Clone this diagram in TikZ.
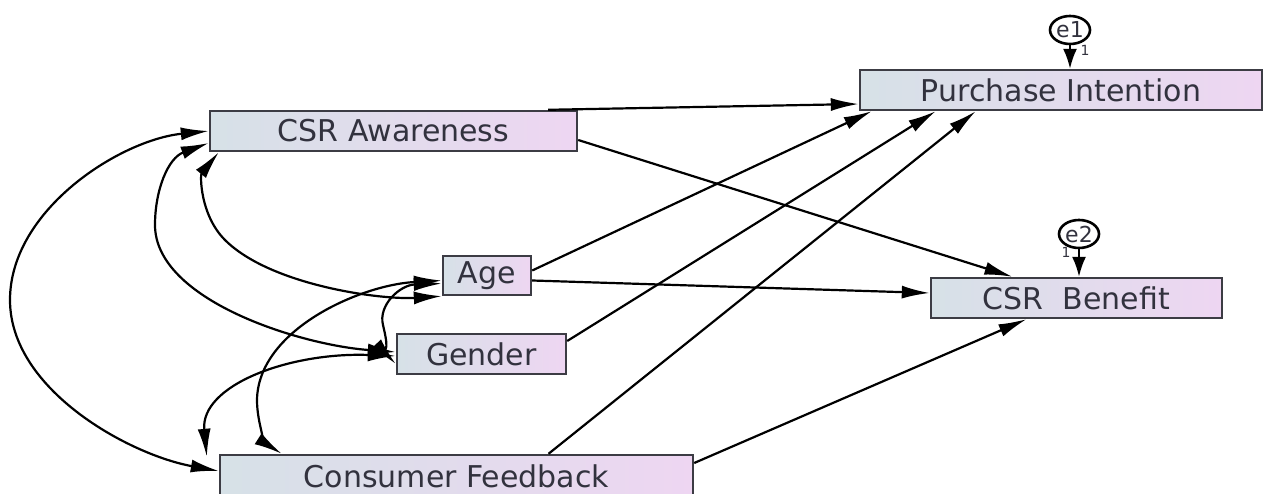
\documentclass[tikz,border=0pt]{standalone}
\usepackage{fontspec}
\setmainfont{DejaVu Sans}
\usetikzlibrary{arrows.meta,shapes.geometric}
\definecolor{boxl}{RGB}{214,225,231}
\definecolor{boxr}{RGB}{238,214,242}
\definecolor{edgec}{RGB}{60,60,68}
\definecolor{txt}{RGB}{50,50,62}
\begin{document}
\begin{tikzpicture}[x=1pt,y=-1pt,
  var/.style={rectangle,draw=edgec,line width=2.4pt,left color=boxl,right color=boxr,
    text=txt,font=\fontsize{30}{34}\selectfont,minimum height=40pt,inner sep=0pt},
  err/.style={ellipse,draw=black,line width=2.6pt,fill=white,text=txt,
    font=\fontsize{22}{24}\selectfont,minimum width=40pt,minimum height=28pt,inner sep=0pt},
  arr/.style={draw=black,line width=2.2pt,-{Latex[length=28pt,width=13pt]}},
  cov/.style={draw=black,line width=2.2pt,{Latex[length=28pt,width=13pt]}-{Latex[length=28pt,width=13pt]}},
  one/.style={font=\fontsize{14}{14}\selectfont,text=txt,inner sep=0pt}]
\fill[white] (0,0) rectangle (1282,494);
\useasboundingbox (0,0) rectangle (1282,494);

% variables
\node[var,minimum width=402pt] (pi) at (1061,90) {Purchase Intention};
\node[var,minimum width=367pt] (csra) at (393.5,131) {CSR Awareness};
\node[var,minimum width=291pt] (csrb) at (1076.5,298) {CSR\ \ Benefit};
\node[var,minimum width=88pt,minimum height=39pt] (age) at (487,275.5) {Age};
\node[var,minimum width=169pt] (gen) at (481.5,354) {Gender};
\node[var,minimum width=473pt,minimum height=42pt] (cf) at (456.5,476) {Consumer Feedback};

% error terms
\node[err] (e1) at (1070,30) {e1};
\node[err] (e2) at (1079,234) {e2};
\node[one] (o1) at (1085,50) {1};
\node[one] (o2) at (1066,252) {1};
\draw[arr,-{Latex[length=20pt,width=14pt]}] (e1.south) -- (e1.south |- pi.north);
\draw[arr,-{Latex[length=20pt,width=14pt]}] (e2.south) -- (e2.south |- csrb.north);

% regression paths
\draw[arr] ([xshift=-30pt]csra.north east) -- ([yshift=-14pt]pi.west);
\draw[arr] ([yshift=-9pt]csra.east) -- ([xshift=-64pt]csrb.north);
\draw[arr] ([yshift=5pt]age.east) -- ([xshift=13pt]pi.south west);
\draw[arr] ([yshift=13pt]gen.east) -- ([xshift=77pt]pi.south west);
\draw[arr] ([xshift=92pt]cf.north) -- ([xshift=117pt]pi.south west);
\draw[arr] ([yshift=-5pt]age.east) -- ([yshift=5pt]csrb.west);
\draw[arr] ([yshift=13pt]cf.east) -- ([xshift=-50pt]csrb.south);

% covariances
\draw[cov] (csra.west) .. controls (120,140) and (10,210) .. (10,300)
  .. controls (10,390) and (130,455) .. ([yshift=5pt]cf.west);
\draw[cov] ([yshift=-12pt]csra.west) .. controls (168,158) and (155,190) .. (155,225)
  .. controls (155,300) and (300,345) .. ([yshift=2pt]gen.west);
\draw[cov] ([xshift=10pt]csra.south west) .. controls (200,175) and (200,215) .. (225,240)
  .. controls (270,285) and (380,300) .. (age.south west);
\draw[cov] ([yshift=-5pt]age.west) .. controls (360,285) and (258,330) .. (257,400)
  .. controls (257,425) and (268,445) .. ([xshift=63pt]cf.north west);
\draw[cov] ([yshift=-2pt]gen.west) .. controls (290,352) and (200,385) .. ([xshift=-12pt,yshift=-3pt]cf.north west);
\draw[cov] ([yshift=-8pt]age.west) .. controls (400,285) and (378,305) .. (383,325)
  .. controls (387,342) and (390,358) .. ([yshift=-10pt]gen.west);
\end{tikzpicture}
\end{document}
